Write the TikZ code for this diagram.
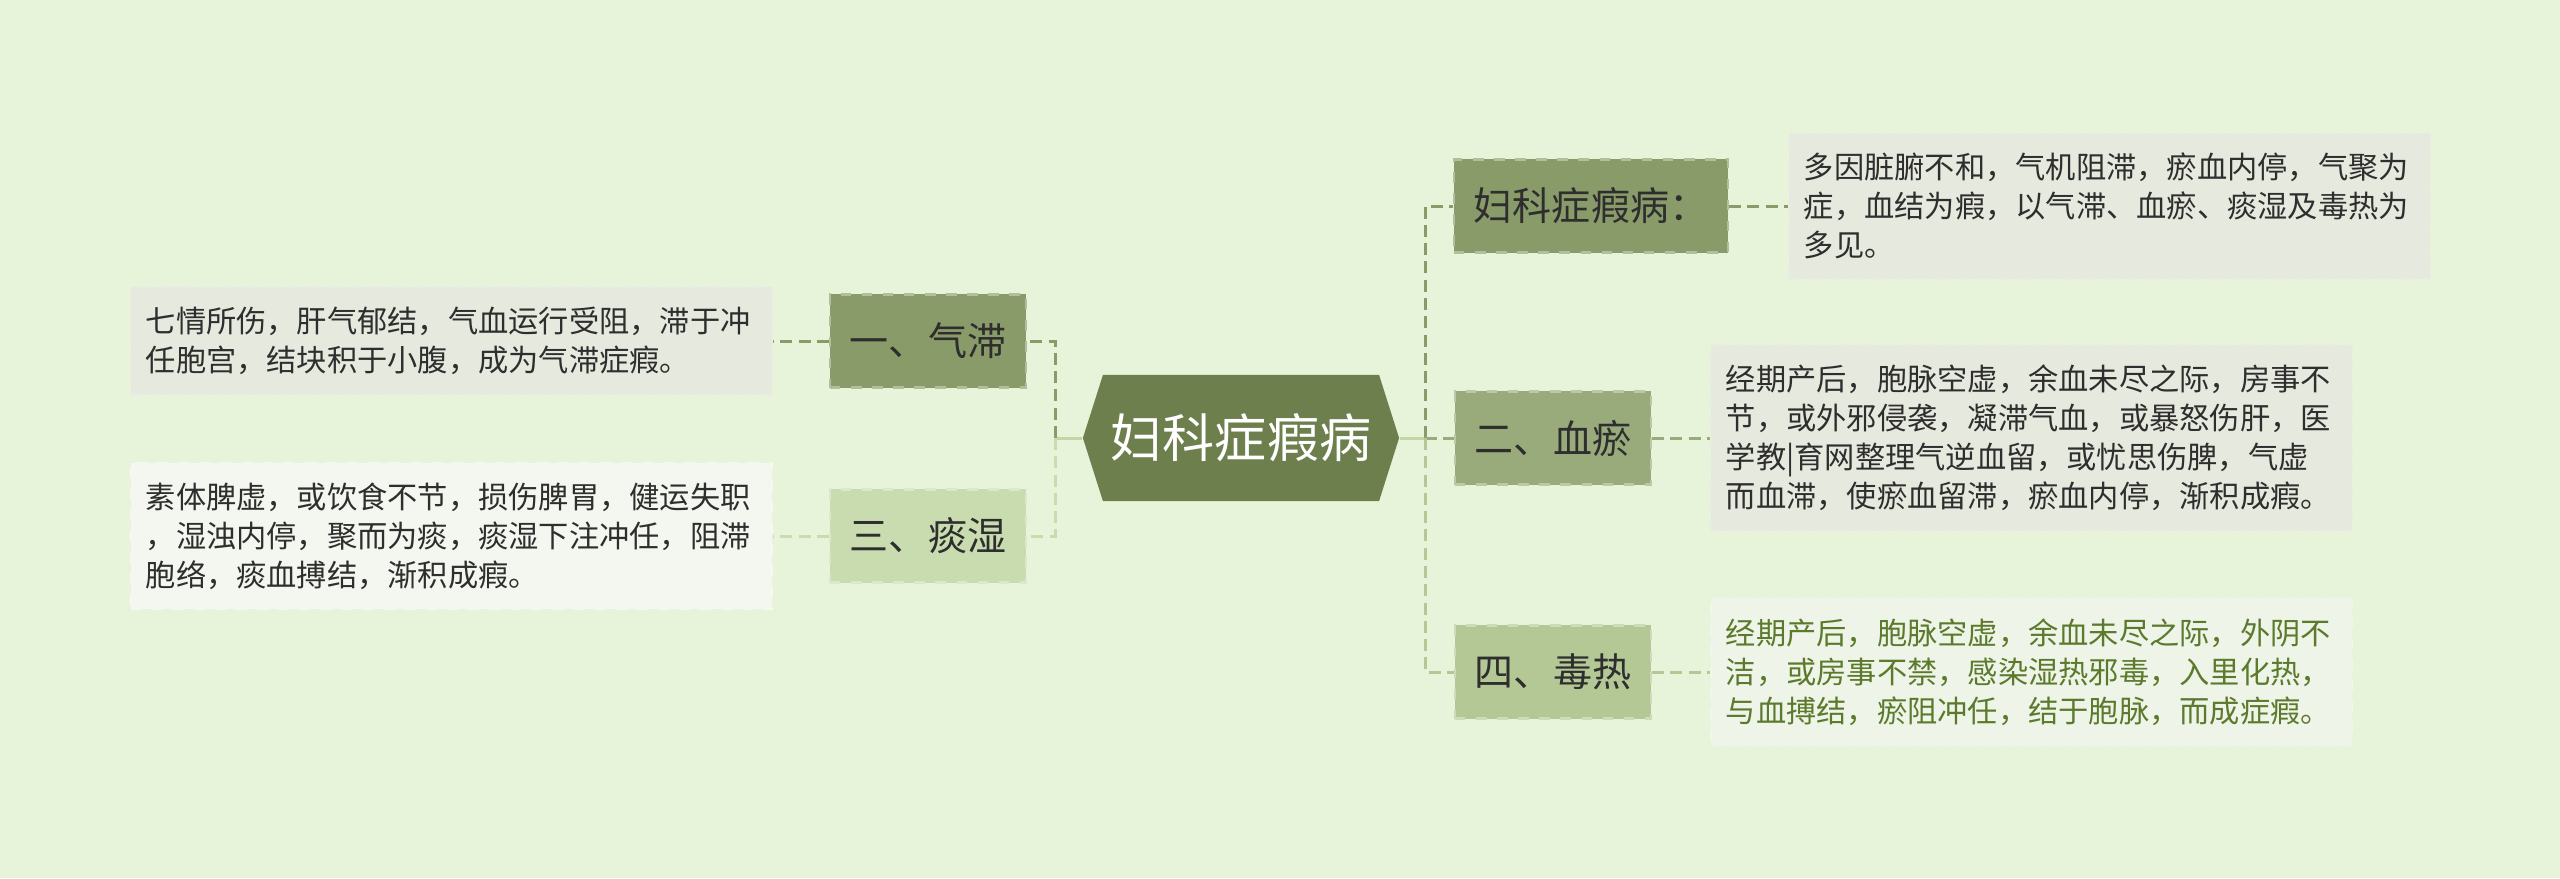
\documentclass[tikz,border=0pt]{standalone}
\usepackage{fontspec}
\setmainfont{Noto Sans CJK SC}
\usepackage{xcolor}
\usepackage{tikz}
\usetikzlibrary{calc,positioning}
\definecolor{MapBack}{HTML}{E7F4DA}
\definecolor{MapHub}{HTML}{6E7F4E}
\definecolor{MapDeep}{HTML}{8A9B6A}
\definecolor{MapMid}{HTML}{9AAB7B}
\definecolor{MapSoft}{HTML}{B4C896}
\definecolor{MapPale}{HTML}{C9DCAF}
\definecolor{MapStub}{HTML}{C3D7A6}
\definecolor{MapInk}{HTML}{2E2E2E}
\definecolor{MapGreenInk}{HTML}{5B7A2C}
\definecolor{LeafGrey}{HTML}{E6E9DE}
\definecolor{LeafLight}{HTML}{EFF4E8}
\definecolor{LeafWhite}{HTML}{F4F7EF}

\tikzset{
  hub/.style={minimum width=3.16cm,minimum height=1.26cm,inner sep=0pt,text=white,
    font=\fontsize{14.8pt}{16pt}\selectfont,
    path picture={\fill[MapHub] (path picture bounding box.west)
      -- ($(path picture bounding box.north west)+(20,0)$)
      -- ($(path picture bounding box.north east)+(-20,0)$)
      -- (path picture bounding box.east)
      -- ($(path picture bounding box.south east)+(-20,0)$)
      -- ($(path picture bounding box.south west)+(20,0)$) -- cycle;}},
  branch/.style={fill=#1,draw=#1!65!white,dashed,line width=.6pt,text=MapInk,
    minimum height=.93cm,inner xsep=.2cm,font=\fontsize{11.1pt}{13pt}\selectfont},
  leaf/.style={fill=#1,draw=#1!85!white,dashed,line width=.4pt,text=MapInk,
    text width=6.11cm,inner xsep=.15cm,inner ysep=.2cm,align=left,
    font=\fontsize{8.6pt}{11.1pt}\selectfont},
  link/.style={dashed,dash pattern=on 3.4pt off 1.8pt,line width=.85pt},
  stub/.style={MapStub,line width=.85pt}
}

\begin{document}
\begin{tikzpicture}[x=0.01cm,y=-0.01cm]
\fill[MapBack] (0,0) rectangle (2560,878);
\useasboundingbox (0,0) rectangle (2560,878);

\node[hub] (hub) at (1241,438) {妇科症瘕病};

% right side
\node[branch=MapDeep] (fk) at (1591,206) {妇科症瘕病：};
\node[branch=MapMid] (xueyu) at (1553,438) {二、血瘀};
\node[branch=MapSoft] (dure) at (1553,672) {四、毒热};
\node[leaf=LeafGrey,right=.59cm of fk] (fkTxt) {多因脏腑不和，气机阻滞，瘀血内停，气聚为\\症，血结为瘕，以气滞、血瘀、痰湿及毒热为\\多见。};
\node[leaf=LeafGrey,right=.58cm of xueyu] (xueyuTxt) {经期产后，胞脉空虚，余血未尽之际，房事不\\节，或外邪侵袭，凝滞气血，或暴怒伤肝，医\\学教|育网整理气逆血留，或忧思伤脾，气虚\\而血滞，使瘀血留滞，瘀血内停，渐积成瘕。};
\node[leaf=LeafLight,text=MapGreenInk,right=.58cm of dure] (dureTxt) {经期产后，胞脉空虚，余血未尽之际，外阴不\\洁，或房事不禁，感染湿热邪毒，入里化热，\\与血搏结，瘀阻冲任，结于胞脉，而成症瘕。};

% left side
\node[branch=MapDeep] (qizhi) at (928,341) {一、气滞};
\node[branch=MapPale] (tanshi) at (928,536) {三、痰湿};
\node[leaf=LeafGrey,left=.56cm of qizhi] (qizhiTxt) {七情所伤，肝气郁结，气血运行受阻，滞于冲\\任胞宫，结块积于小腹，成为气滞症瘕。};
\node[leaf=LeafWhite,left=.56cm of tanshi] (tanshiTxt) {素体脾虚，或饮食不节，损伤脾胃，健运失职\\，湿浊内停，聚而为痰，痰湿下注冲任，阻滞\\胞络，痰血搏结，渐积成瘕。};

% connectors
\coordinate (jl) at (1055,438);
\coordinate (jr) at (1425,438);
\draw[stub] (hub.west) -- (jl);
\draw[stub] (hub.east) -- (jr);
\draw[link,MapDeep] (jl) |- (qizhi.east);
\draw[link,MapPale] (jl) |- (tanshi.east);
\draw[link,MapDeep] (jr) |- (fk.west);
\draw[link,MapMid] (jr) -- (xueyu.west);
\draw[link,MapSoft] (jr) |- (dure.west);
\draw[link,MapDeep] (fk.east) -- (fkTxt.west);
\draw[link,MapMid] (xueyu.east) -- (xueyuTxt.west);
\draw[link,MapSoft] (dure.east) -- (dureTxt.west);
\draw[link,MapDeep] (qizhi.west) -- (qizhiTxt.east);
\draw[link,MapPale] (tanshi.west) -- (tanshiTxt.east);
\end{tikzpicture}
\end{document}
